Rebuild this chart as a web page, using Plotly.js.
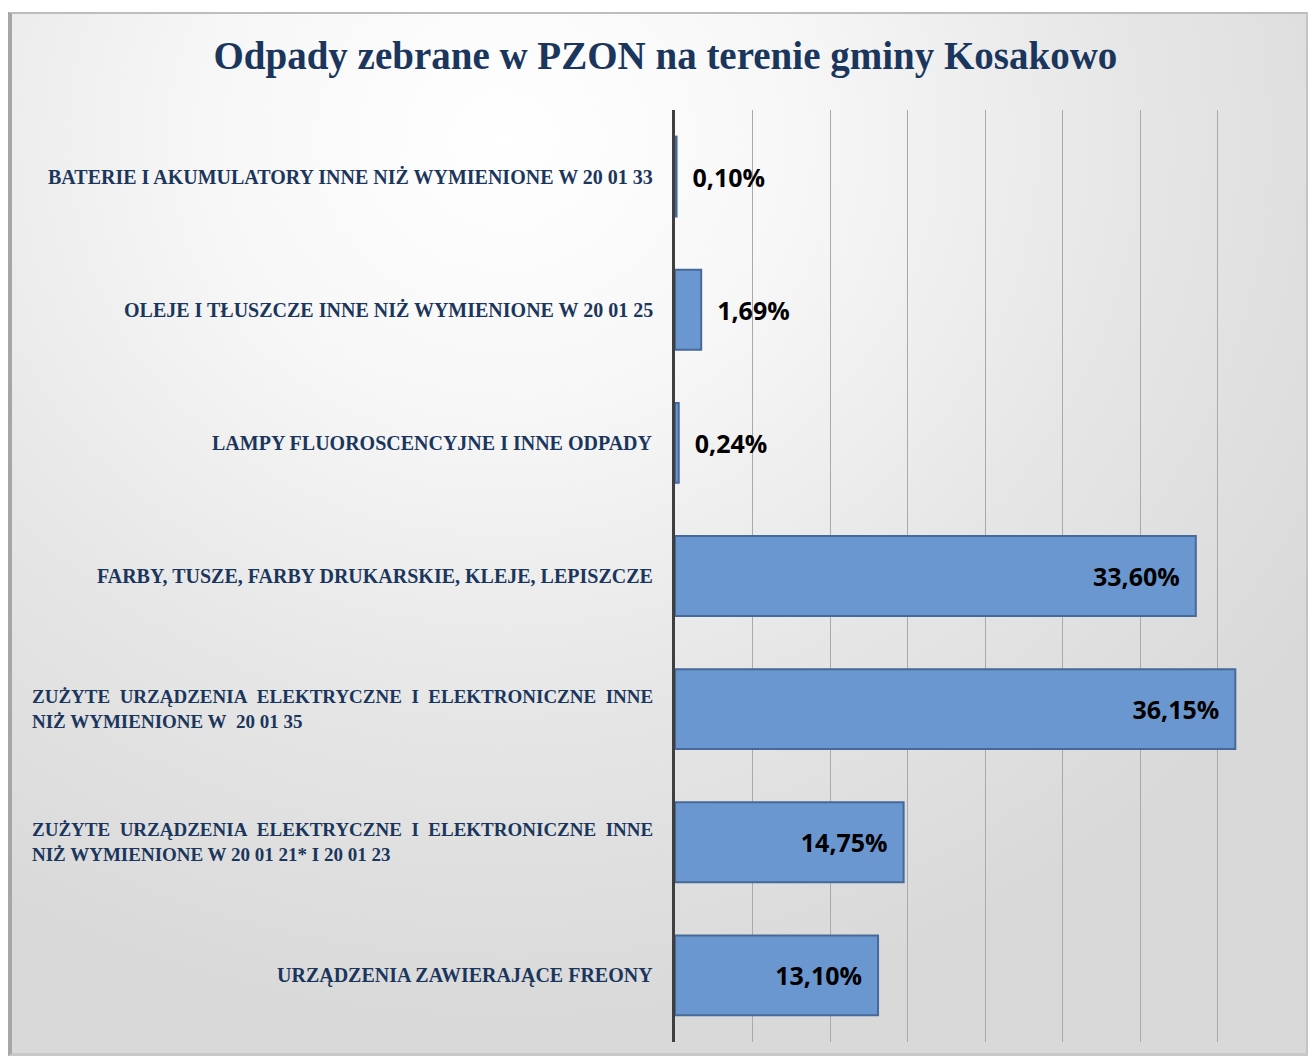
<!DOCTYPE html>
<html>
<head>
<meta charset="utf-8">
<script src="https://cdn.plot.ly/plotly-3.0.1.min.js"></script>
<style>
  html, body { margin: 0; padding: 0; background: #ffffff; width: 1315px; height: 1061px; overflow: hidden; }
  #frame {
    position: absolute; left: 8px; top: 12px; width: 1300px; height: 1044px;
    border-top: 2px solid #bdbdbd; border-right: 2px solid #c4c4c4; border-bottom: 3px solid #c8c8c8; border-left: 4px solid #a6a6a6;
    background: radial-gradient(ellipse 75% 85% at 38% 12%, #ffffff 0%, #f7f7f7 30%, #e6e6e6 65%, #d9d9d9 100%);
    box-sizing: border-box;
  }
  #chart { position: absolute; left: 0; top: 0; width: 1315px; height: 1061px; }
</style>
</head>
<body>
<div id="frame"></div>
<div id="chart"></div>
<script>
const categories = [
  "URZĄDZENIA ZAWIERAJĄCE FREONY",
  "ZUŻYTE\u00a0\u00a0URZĄDZENIA\u00a0\u00a0ELEKTRYCZNE\u00a0\u00a0I\u00a0\u00a0ELEKTRONICZNE\u00a0\u00a0INNE<br>NIŻ WYMIENIONE W 20 01 21* I 20 01 23",
  "ZUŻYTE\u00a0\u00a0URZĄDZENIA\u00a0\u00a0ELEKTRYCZNE\u00a0\u00a0I\u00a0\u00a0ELEKTRONICZNE\u00a0\u00a0INNE<br>NIŻ WYMIENIONE W\u00a0\u00a020 01 35",
  "FARBY, TUSZE, FARBY DRUKARSKIE, KLEJE, LEPISZCZE",
  "LAMPY FLUOROSCENCYJNE I INNE ODPADY",
  "OLEJE I TŁUSZCZE INNE NIŻ WYMIENIONE W 20 01 25",
  "BATERIE I AKUMULATORY INNE NIŻ WYMIENIONE W 20 01 33"
];
const values = [13.10, 14.75, 36.15, 33.60, 0.24, 1.69, 0.10];
const valueLabels = ["13,10%", "14,75%", "36,15%", "33,60%", "0,24%", "1,69%", "0,10%"];
const labelPositions = ["inside", "inside", "inside", "inside", "outside", "outside", "outside"];
const title = "Odpady zebrane w PZON na terenie gminy Kosakowo";
const keys = categories.map((c, i) => "c" + i);

const navy = "#1b365d";
const sp = "\u00a0";
const templates = labelPositions.map(p => p === "inside" ? "%{text}" + sp + sp : sp + sp + "%{text}");

const valFont = { family: "Open Sans, sans-serif", size: 25, color: "#000000", weight: "bold" };
const trace = {
  type: "bar",
  orientation: "h",
  y: keys,
  x: values,
  text: valueLabels,
  texttemplate: templates,
  textposition: labelPositions,
  insidetextanchor: "end",
  textfont: valFont,
  insidetextfont: valFont,
  outsidetextfont: valFont,
  cliponaxis: false,
  constraintext: "none",
  marker: { color: "#6a97cf", line: { color: "#46699a", width: 2 } },
  width: 0.6,
  hoverinfo: "skip"
};

const annotations = categories.map((c, i) => ({
  xref: "paper", yref: "y",
  x: -0.032, y: keys[i],
  xanchor: "right", yanchor: "middle",
  align: "left",
  text: c,
  showarrow: false,
  font: { family: "Liberation Serif, serif", size: c.includes("<br>") ? 19 : 20, color: navy, weight: "bold" }
}));

const layout = {
  width: 1315, height: 1061,
  paper_bgcolor: "rgba(0,0,0,0)",
  plot_bgcolor: "rgba(0,0,0,0)",
  margin: { l: 675, r: 20, t: 110, b: 19 },
  title: {
    text: "<b>" + title + "</b>",
    font: { family: "Liberation Serif, serif", size: 39, color: navy },
    x: 0.506, xanchor: "center", xref: "container",
    y: 0.948, yanchor: "middle", yref: "container"
  },
  xaxis: {
    range: [0, 40], dtick: 5, tick0: 0,
    showgrid: true, gridcolor: "#a9a9a9", gridwidth: 1,
    showticklabels: false, ticks: "", zeroline: false, showline: false,
    fixedrange: true
  },
  yaxis: {
    type: "category",
    showticklabels: false, ticks: "",
    showgrid: false, zeroline: false,
    showline: true, linecolor: "#3f3f3f", linewidth: 3,
    fixedrange: true
  },
  annotations: annotations,
  showlegend: false,
  bargap: 0.4
};

Plotly.newPlot("chart", [trace], layout, { displayModeBar: false, staticPlot: true });
</script>
</body>
</html>
